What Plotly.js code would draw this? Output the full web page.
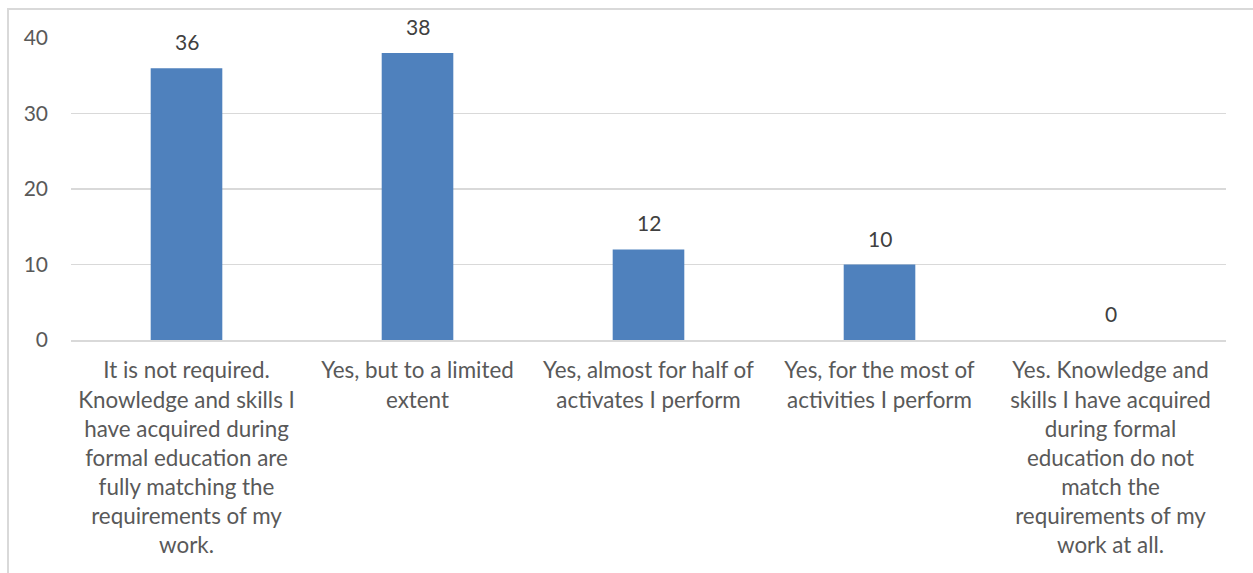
<!DOCTYPE html>
<html><head><meta charset="utf-8">
<script src="https://cdn.plot.ly/plotly-3.0.1.min.js"></script>
<style>
html,body{margin:0;padding:0;width:1253px;height:573px;overflow:hidden;background:#fff;}
#frame{position:absolute;left:7px;top:8px;width:1400px;height:700px;border:2px solid #d9d9d9;box-sizing:border-box;}
#chart{position:absolute;left:0;top:0;width:1253px;height:573px;}
</style></head>
<body>
<div id="frame"></div>
<div id="chart"></div>
<script>
const categories = [
  "It is not required.<br>Knowledge and skills I<br>have acquired during<br>formal education are<br>fully matching the<br>requirements of my<br>work.",
  "Yes, but to a limited<br>extent",
  "Yes, almost for half of<br>activates I perform",
  "Yes, for the most of<br>activities I perform",
  "Yes. Knowledge and<br>skills I have acquired<br>during formal<br>education do not<br>match the<br>requirements of my<br>work at all."
];
const values = [36, 38, 12, 10, 0];
const yTicks = [0, 10, 20, 30, 40];

const FONT = "Lato, sans-serif";
const trace = {
  type: "bar", x: categories, y: values,
  marker: {color: "#4f81bd"}, width: 0.31, hoverinfo: "none"
};
const annotations = categories.map((c, i) => ({
  x: c, y: values[i], xref: "x", yref: "y", text: String(values[i]),
  showarrow: false, yanchor: "bottom", yshift: 12,
  font: {family: FONT, size: 21, color: "#404040"}
}));
const layout = {
  width: 1253, height: 573,
  margin: {l: 71, r: 27, t: 38, b: 233},
  paper_bgcolor: "rgba(0,0,0,0)", plot_bgcolor: "rgba(0,0,0,0)",
  showlegend: false,
  font: {family: FONT, size: 21, color: "#595959"},
  xaxis: {
    type: "category", showgrid: false, showline: true, linecolor: "#d9d9d9", linewidth: 1.5,
    ticks: "", tickangle: 0, tickfont: {family: FONT, size: 22.4, color: "#595959"},
    ticklabelstandoff: 10, fixedrange: true
  },
  yaxis: {
    range: [0, 40], tickvals: yTicks, ticktext: yTicks.map(String),
    showgrid: true, gridcolor: "#d9d9d9", gridwidth: 1.5, zeroline: false, showline: false,
    ticks: "", tickfont: {family: FONT, size: 21, color: "#595959"},
    ticklabelstandoff: 22, fixedrange: true
  },
  annotations: annotations
};
Plotly.newPlot("chart", [trace], layout, {displayModeBar: false, staticPlot: true});
</script>
</body></html>
